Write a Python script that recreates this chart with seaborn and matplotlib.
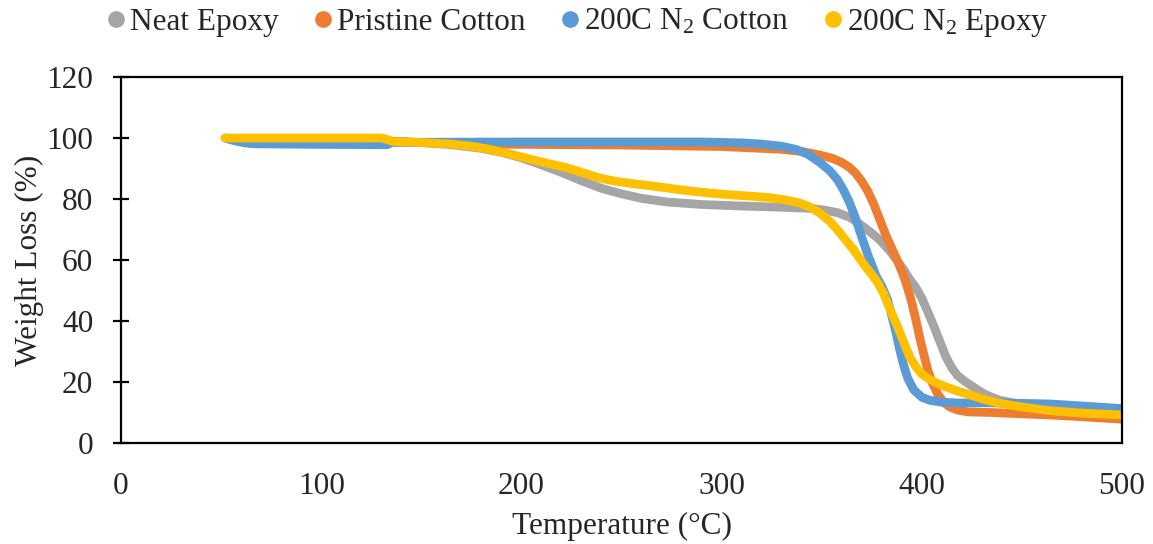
import matplotlib
matplotlib.use("Agg")
import matplotlib.pyplot as plt
from matplotlib.lines import Line2D
import seaborn as sns
import pandas as pd

# ---- data ----
neat_epoxy_T = [133, 150, 165, 180, 190, 200, 210, 220, 230, 240, 250, 260, 273, 290, 310, 330, 345, 352,
                358, 364, 369, 374, 379, 384, 388, 391, 394, 397, 400, 403, 406, 409, 412, 415, 418, 422,
                427, 432, 439, 450, 464, 480, 490, 500]
neat_epoxy_W = [99, 98.5, 97.8, 96.6, 95.3, 93.5, 91.2, 88.7, 86, 83.5, 81.7, 80.2, 79, 78.2, 77.7, 77.3, 76.9, 76.3,
                75.5, 74, 71.8, 69.3, 66.6, 63, 59.5, 56.8, 53.6, 51, 47.5, 43, 38.3, 33.3, 28.3, 24.6, 22, 20,
                17.8, 15.8, 14, 12.6, 11.5, 10, 9.2, 8.5]

pristine_cotton_T = [133, 150, 180, 250, 300, 330, 340, 349, 355, 360, 364, 367, 370, 373, 376, 379, 382, 385,
                     388, 391, 393, 395, 397, 399, 401, 403, 405, 408, 411, 414, 418, 423, 435, 448, 464, 480, 500]
pristine_cotton_W = [99, 98.5, 98, 97.7, 97.2, 96.3, 95.6, 94.4, 93.4, 92, 90.3, 88.4, 85.8, 82.6, 78.3, 73.3, 68.2, 63.8,
                     59.5, 54.6, 50.6, 46, 40.5, 34.5, 29, 24, 20, 16, 13.3, 11.8, 10.8, 10.2, 10, 9.6, 9.2, 8.6, 7.8]

n2_cotton_T = [52, 55, 58, 62, 66, 100, 133, 135, 150, 200, 290, 310, 320, 330, 337, 343, 349, 354, 358, 361,
               364, 367, 370, 373, 377, 380, 383, 385, 387, 389, 391, 393, 396, 400, 404, 410, 418, 431, 450,
               464, 500]
n2_cotton_W = [100, 99.4, 98.9, 98.4, 98.1, 97.9, 97.8, 98.5, 98.6, 98.7, 98.7, 98.4, 98, 97.3, 96.3, 94.7, 92, 89.3, 86.2, 82.8,
               78.7, 73.5, 67.5, 61.8, 55, 51.4, 46.9, 41.7, 36.5, 30.5, 25.3, 21.2, 17.4, 15, 14, 13.4, 13.1, 13.2, 13,
               12.8, 11.3]

n2_epoxy_T = [52, 130, 133, 136, 150, 165, 175, 185, 195, 206, 215, 223, 231, 239, 247, 256, 265, 273, 281,
              289, 298, 306, 315, 323, 331, 339, 344, 349, 354, 358, 362, 366, 369, 372, 375, 378, 381, 384,
              388, 391, 394, 397, 400, 404, 408, 412, 418, 424, 431, 439, 450, 464, 480, 500]
n2_epoxy_W = [100, 100, 99.5, 98.8, 98.5, 98, 97.3, 96.2, 94.6, 92.8, 91.4, 90.2, 88.5, 86.9, 85.8, 85, 84.3, 83.6, 82.9,
              82.3, 81.7, 81.3, 80.9, 80.5, 79.8, 78.7, 77.4, 75.4, 72.7, 69.8, 66.5, 63.3, 60.5, 57.7, 55.3, 52.5, 48.9, 44,
              38, 33, 28.2, 25, 22.6, 20.8, 19.5, 18.4, 17, 15.8, 14.3, 13, 11.8, 10.6, 9.8, 9.2]

labels = ["Neat Epoxy", "Pristine Cotton", r"200C N$_2$ Cotton", r"200C N$_2$ Epoxy"]
colors = ["#A5A5A5", "#ED7D31", "#5B9BD5", "#FFC000"]

frames = []
for lab, T, W in zip(labels,
                     [neat_epoxy_T, pristine_cotton_T, n2_cotton_T, n2_epoxy_T],
                     [neat_epoxy_W, pristine_cotton_W, n2_cotton_W, n2_epoxy_W]):
    frames.append(pd.DataFrame({"Temperature": T, "Weight": W, "Series": lab}))
df = pd.concat(frames, ignore_index=True)

sns.set_style("white")
plt.rcParams["font.family"] = ["Liberation Serif", "DejaVu Serif"]
plt.rcParams["mathtext.default"] = "regular"

FS = 22.5
fig = plt.figure(figsize=(11.53, 5.44), dpi=100)
ax = fig.add_axes([121 / 1153, 1 - 443 / 544, (1122 - 121) / 1153, (443 - 77) / 544])

sns.lineplot(data=df, x="Temperature", y="Weight", hue="Series", hue_order=labels,
             palette=colors, sort=False, estimator=None, linewidth=6.3, ax=ax, legend=False,
             solid_capstyle="round", solid_joinstyle="round")

ax.set_xlim(0, 500)
ax.set_ylim(0, 120)
ax.set_xticks([0, 100, 200, 300, 400, 500])
ax.set_yticks([0, 20, 40, 60, 80, 100, 120])
for s in ax.spines.values():
    s.set_color("black")
    s.set_linewidth(1.6)
ax.tick_params(axis="y", direction="inout", length=12, width=1.6, color="black",
               labelsize=FS, pad=14, left=True)
ax.tick_params(axis="x", length=0, labelsize=FS, pad=21)
ax.set_xlabel("Temperature (°C)", fontsize=FS, labelpad=8)
ax.set_ylabel("Weight Loss (%)", fontsize=FS, labelpad=2)

handles = [Line2D([], [], linestyle="none", marker="o", markersize=11,
                  markerfacecolor=c, markeredgecolor=c) for c in colors]
fig.legend(handles, labels, loc="center", bbox_to_anchor=(0.5, 1 - 23 / 544), ncol=4,
           frameon=False, fontsize=FS, handlelength=0.7, handletextpad=0.1,
           columnspacing=1.07, borderaxespad=0)

fig.savefig("out.png", dpi=100)
